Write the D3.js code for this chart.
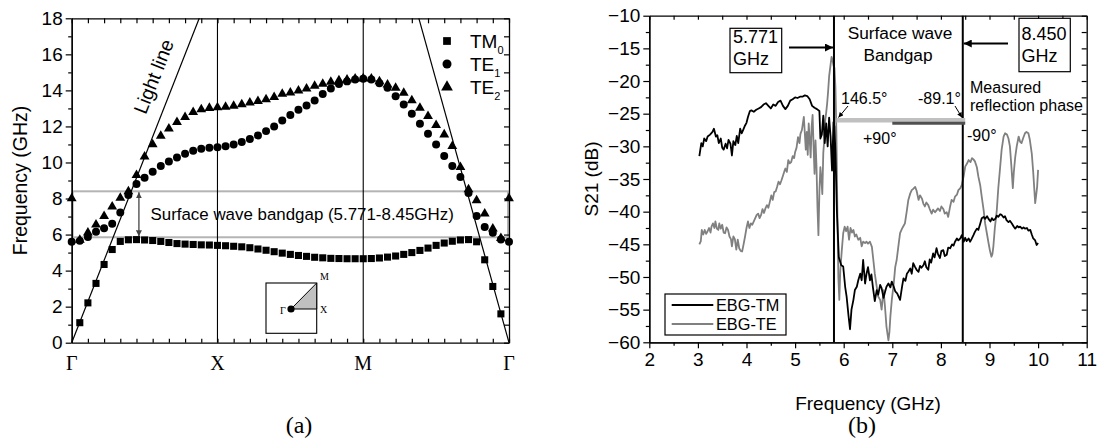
<!DOCTYPE html>
<html><head><meta charset="utf-8">
<script src="https://cdn.jsdelivr.net/npm/d3@7"></script>
<style>
html,body{margin:0;padding:0;background:#fff;}
svg{display:block;}
</style></head><body>
<svg id="chart" width="1100" height="444"></svg>
<script>
// ================= DATA =================
// (a) dispersion diagram: k-path index 0..54 (Γ-X-M-Γ), frequency in GHz
const kPointLabels = ["Γ", "X", "M", "Γ"];
const kPointIndex = [0, 18, 36, 54];
const tm0 = [null,1.11,2.21,3.29,4.34,5.17,5.62,5.71,5.72,5.7,5.67,5.62,5.56,5.5,5.47,5.45,5.43,5.42,5.4,5.38,5.35,5.32,5.27,5.2,5.13,5.05,4.97,4.9,4.84,4.79,4.74,4.71,4.68,4.67,4.66,4.66,4.66,4.67,4.7,4.75,4.81,4.9,5.0,5.12,5.25,5.4,5.53,5.63,5.7,5.72,5.6,4.6,3.12,1.6,null];
const te1 = [5.6,5.65,5.87,6.15,6.35,6.6,7.22,8.2,8.8,9.15,9.48,9.8,10.05,10.28,10.48,10.65,10.76,10.82,10.85,10.9,11.0,11.13,11.3,11.5,11.74,12.0,12.33,12.64,12.92,13.16,13.44,13.8,14.1,14.36,14.5,14.6,14.65,14.6,14.4,14.14,13.68,13.22,12.7,12.15,11.6,11.0,10.36,9.8,9.2,8.3,7.03,6.42,6.1,5.72,5.6];
const te2 = [8.0,5.7,6.1,6.55,7.02,7.55,8.03,8.4,9.29,10.32,11.0,11.47,11.87,12.24,12.51,12.79,12.95,13.02,13.05,13.08,13.14,13.22,13.32,13.4,13.5,13.62,13.81,13.87,13.99,14.1,14.25,14.36,14.47,14.55,14.6,14.65,14.67,14.65,14.5,14.32,14.14,13.86,13.44,13.03,12.57,12.07,11.55,10.9,9.74,8.5,7.9,7.16,6.33,5.8,8.0];
const seriesNamesA = ["TM", "TE", "TE"];
const seriesSubsA = ["0", "1", "2"];
const yTicksA = [0,2,4,6,8,10,12,14,16,18];
const lightLineLeft = [[0,0],[15.75,18]];
const lightLineRight = [[54,0],[42.87,18]];
const bandgapDrawn = [5.85, 8.4];
const bandgapText = "Surface wave bandgap (5.771-8.45GHz)";

// (b) measured S21
const tmFreq = [3.03,3.07,3.1,3.13,3.17,3.2,3.25,3.3,3.33,3.37,3.4,3.43,3.47,3.5,3.53,3.57,3.6,3.63,3.67,3.7,3.73,3.77,3.8,3.83,3.87,3.9,3.93,3.97,4.0,4.03,4.07,4.1,4.15,4.2,4.25,4.3,4.35,4.4,4.45,4.5,4.55,4.6,4.65,4.7,4.75,4.8,4.85,4.9,4.95,5.0,5.05,5.1,5.15,5.2,5.25,5.3,5.35,5.4,5.45,5.5,5.52,5.55,5.58,5.61,5.64,5.67,5.7,5.73,5.76,5.79,5.81,5.83,5.86,5.9,5.95,5.99,6.03,6.06,6.1,6.13,6.16,6.2,6.23,6.27,6.3,6.34,6.37,6.4,6.44,6.47,6.5,6.54,6.57,6.6,6.64,6.68,6.71,6.75,6.78,6.82,6.85,6.88,6.92,6.96,6.99,7.03,7.06,7.1,7.13,7.16,7.2,7.23,7.27,7.3,7.33,7.37,7.4,7.43,7.47,7.5,7.54,7.57,7.6,7.64,7.67,7.7,7.74,7.77,7.8,7.84,7.87,7.91,7.94,7.98,8.01,8.05,8.08,8.12,8.15,8.19,8.23,8.26,8.29,8.33,8.36,8.4,8.43,8.47,8.5,8.53,8.57,8.6,8.63,8.67,8.7,8.74,8.77,8.81,8.84,8.88,8.91,8.95,8.98,9.02,9.05,9.08,9.12,9.15,9.18,9.22,9.25,9.29,9.32,9.35,9.39,9.42,9.46,9.5,9.53,9.57,9.6,9.63,9.67,9.7,9.73,9.77,9.8,9.84,9.87,9.9,9.94,9.97,10.0];
const tmS21 = [-31.5,-29.5,-30,-28.8,-29.2,-28.5,-28.2,-27.8,-27.3,-28.5,-28.3,-29.5,-28.8,-30.2,-30.5,-29.6,-30.3,-29,-29.6,-31.4,-29.2,-29.8,-28.4,-29.5,-27.3,-28,-27.5,-26.8,-26.4,-25.5,-24.6,-24.5,-24.7,-24.4,-24.2,-24,-23.6,-23.4,-23.8,-24.2,-23.6,-23.8,-23.2,-23,-23.8,-24.3,-23.8,-23,-22.8,-22.5,-22.6,-22.4,-22.4,-22.2,-22.3,-22.8,-23.8,-24.1,-24.3,-24.6,-28.8,-28.2,-25.3,-29.5,-26.5,-30,-25.6,-28.5,-33.7,-26.3,-27,-31,-40,-47,-48.2,-48.4,-51.5,-53,-56,-58,-55,-53.5,-52,-51.5,-50.5,-49.5,-50.5,-47.4,-51,-49.5,-48.5,-50.5,-49.6,-51.5,-53.7,-52,-52.7,-51.2,-51.7,-53.2,-52.3,-51.5,-51,-51.6,-50.7,-51.5,-52.2,-52.5,-53,-53.5,-51.5,-50.2,-50.6,-49.5,-49.2,-48.7,-49.5,-47.9,-48.5,-48.9,-49.2,-48.3,-48.6,-48.2,-47.6,-48.5,-48.9,-47.3,-47.8,-46.4,-47,-45.6,-46.5,-47.1,-46,-45.9,-46.8,-46.6,-45.5,-45.6,-45,-45.2,-44.6,-44.1,-44.4,-44.1,-43.6,-44.6,-44,-44.5,-44.1,-44.6,-44.2,-43.6,-43.1,-42.6,-42.8,-41.8,-41,-40.8,-41.1,-40.7,-41.1,-41.5,-41,-41.3,-41.1,-40.6,-40.8,-40.4,-40.5,-40.9,-40.7,-41.3,-41.6,-41.4,-41.8,-42.3,-42.6,-42.2,-42.4,-42.3,-42.6,-42.4,-42.6,-42.5,-42.9,-42.8,-43.5,-44.1,-44.4,-45.1,-44.8];
const teFreq = [3.03,3.06,3.08,3.11,3.14,3.17,3.2,3.23,3.26,3.28,3.31,3.34,3.36,3.39,3.42,3.44,3.47,3.5,3.53,3.56,3.59,3.62,3.65,3.68,3.7,3.73,3.76,3.79,3.82,3.85,3.88,3.91,3.94,3.97,4.0,4.03,4.06,4.09,4.12,4.15,4.18,4.21,4.24,4.27,4.3,4.33,4.36,4.39,4.42,4.45,4.48,4.51,4.54,4.57,4.6,4.63,4.66,4.69,4.72,4.75,4.78,4.8,4.83,4.86,4.89,4.92,4.95,4.98,5.0,5.03,5.06,5.09,5.11,5.14,5.16,5.18,5.2,5.22,5.24,5.26,5.28,5.3,5.32,5.34,5.36,5.38,5.4,5.42,5.44,5.46,5.48,5.5,5.52,5.54,5.56,5.58,5.6,5.62,5.64,5.66,5.68,5.7,5.73,5.75,5.77,5.79,5.81,5.83,5.85,5.87,5.89,5.91,5.93,5.96,5.99,6.02,6.05,6.08,6.11,6.14,6.17,6.2,6.23,6.26,6.3,6.34,6.37,6.4,6.44,6.47,6.5,6.54,6.58,6.61,6.64,6.68,6.71,6.75,6.78,6.82,6.85,6.88,6.92,6.94,6.96,6.99,7.03,7.06,7.09,7.13,7.16,7.2,7.23,7.26,7.3,7.33,7.37,7.4,7.43,7.47,7.5,7.54,7.57,7.61,7.64,7.67,7.7,7.74,7.77,7.81,7.84,7.88,7.91,7.94,7.98,8.01,8.05,8.08,8.12,8.15,8.19,8.22,8.26,8.29,8.33,8.36,8.4,8.43,8.47,8.5,8.54,8.57,8.61,8.64,8.67,8.7,8.74,8.77,8.81,8.84,8.88,8.91,8.95,8.98,9.01,9.04,9.06,9.08,9.11,9.15,9.18,9.22,9.25,9.29,9.32,9.36,9.39,9.42,9.45,9.48,9.5,9.53,9.56,9.6,9.63,9.66,9.69,9.73,9.76,9.8,9.83,9.87,9.9,9.94,9.96,9.98,10.0];
const teS21 = [-45,-44.5,-42.8,-43.5,-42.8,-43.4,-43,-42.5,-43.2,-42.3,-41.8,-42.5,-41.5,-42.6,-42.8,-41.8,-42.6,-42,-43.2,-43.3,-42.4,-42.8,-43.8,-44.2,-45.3,-43.8,-44.2,-45.8,-44.3,-45.6,-46,-46.1,-45,-43.8,-42.5,-41.5,-42.5,-41.8,-42,-41.5,-41,-40.5,-40.3,-41,-40.5,-39.6,-40.2,-39.5,-39,-39.4,-38.5,-37.5,-38.2,-37,-36.9,-36.2,-35.4,-35.8,-35.2,-34.5,-33.8,-33.4,-33.9,-32.1,-32.6,-32.4,-31.5,-31.8,-30.9,-30.2,-28.6,-29.5,-28.1,-27.5,-26.5,-25.5,-28,-30.5,-27.8,-31.3,-26.5,-29,-31.7,-27,-25.2,-30,-34.2,-29.1,-33,-39.3,-43.6,-37,-33.2,-35,-37.3,-31,-29.1,-26,-24.8,-23.4,-21.5,-19.3,-17.5,-16.3,-16.8,-17.6,-18,-21,-28,-40,-50,-53.5,-49,-46,-43.3,-42.3,-43,-42.3,-44.3,-42.5,-43.2,-42.8,-43.8,-43.5,-44.3,-44,-45.3,-44.6,-44.8,-44.6,-44.9,-44.6,-45.4,-47.4,-49.5,-51.5,-53,-53.5,-55,-52,-54.6,-57.6,-59.7,-58.5,-56.1,-53.5,-51,-48.5,-47.4,-45,-43.3,-42.6,-42.2,-41.8,-39.8,-38.2,-37.2,-36.7,-36.5,-36.2,-36.8,-38.2,-37.5,-38,-38.8,-39.2,-38.6,-39,-39.6,-40.3,-39.7,-40.1,-39.8,-39.5,-39.9,-39.2,-39.6,-40.3,-40.1,-40.8,-39.2,-38.2,-38.5,-37.7,-37.4,-36.7,-36.4,-35.9,-34.5,-33.1,-32.6,-32.1,-32.4,-31.8,-32,-32.3,-33.2,-34.6,-36,-37.7,-39.8,-41.8,-43.5,-44.8,-46,-46.9,-46.5,-45.3,-42.5,-39.8,-36.5,-33.1,-30.5,-28.5,-28,-28.2,-28.8,-30,-33,-36.4,-34,-31.6,-30,-28.5,-29.3,-29.5,-28.8,-28,-27.8,-28,-29,-31.1,-34,-38.7,-37.5,-36.2,-33.6];
const seriesNamesB = ["EBG-TM", "EBG-TE"];
const xTicksB = [2,3,4,5,6,7,8,9,10,11];
const yTicksB = [-60,-55,-50,-45,-40,-35,-30,-25,-20,-15,-10];
const bandEdgesDrawn = [5.8, 8.45];
const bandEdgeLabels = ["5.771", "8.450"];
const phaseBars = [[5.85, 8.5, -26], [7.0, 8.5, -26.45]];
const phaseLabels = ["146.5°", "-89.1°", "+90°", "-90°"];

// ================= DRAW =================
const FONT = '"Liberation Sans", Arial, Helvetica, sans-serif';
const SERIF = '"Liberation Serif", "Times New Roman", Times, serif';
const svg = d3.select("#chart");
const defs = svg.append("defs");
defs.append("marker").attr("id","ah").attr("viewBox","0 0 10 10").attr("refX",10).attr("refY",5)
  .attr("markerWidth",10).attr("markerHeight",8).attr("markerUnits","userSpaceOnUse").attr("orient","auto")
  .append("path").attr("d","M0,0 L10,5 L0,10 z").attr("fill","#000");
defs.append("marker").attr("id","ahs").attr("viewBox","0 0 10 10").attr("refX",10).attr("refY",5)
  .attr("markerWidth",6).attr("markerHeight",5).attr("markerUnits","userSpaceOnUse").attr("orient","auto")
  .append("path").attr("d","M0,0 L10,5 L0,10 z").attr("fill","#000");
defs.append("marker").attr("id","ahg").attr("viewBox","0 0 10 10").attr("refX",10).attr("refY",5)
  .attr("markerWidth",6).attr("markerHeight",6).attr("markerUnits","userSpaceOnUse").attr("orient","auto-start-reverse")
  .append("path").attr("d","M0,0 L10,5 L0,10 z").attr("fill","#444");

function styleAxis(g, fs, fam) {
  g.select(".domain").attr("stroke","#000").attr("stroke-width",1.3);
  g.selectAll(".tick line").attr("stroke","#000").attr("stroke-width",1.2);
  g.selectAll("text").attr("font-family", fam || FONT).attr("font-size", fs).attr("fill","#000");
}

// ---------- Panel (a) ----------
const xa = d3.scaleLinear().domain([0,54]).range([71.7,509]);
const ya = d3.scaleLinear().domain([0,18]).range([342.7,18.3]);
const ga = svg.append("g");

// bandgap rectangle
ga.append("rect").attr("x", xa(0)+1).attr("y", ya(bandgapDrawn[1]))
  .attr("width", xa(54)-xa(0)-2).attr("height", ya(bandgapDrawn[0])-ya(bandgapDrawn[1]))
  .attr("fill","none").attr("stroke","#b4b4b4").attr("stroke-width",2);

// vertical lines at X and M
ga.selectAll("line.kv").data(kPointIndex.slice(1,3)).join("line").attr("class","kv")
  .attr("x1", d=>xa(d)).attr("x2", d=>xa(d)).attr("y1", ya(0)).attr("y2", ya(18))
  .attr("stroke","#000").attr("stroke-width",1.1);

// light lines
const lineA = d3.line().x(d=>xa(d[0])).y(d=>ya(d[1]));
[lightLineLeft, lightLineRight].forEach(l => ga.append("path").attr("d", lineA(l))
  .attr("fill","none").attr("stroke","#000").attr("stroke-width",1.2));

// axes (a)
const evenIdx = d3.range(0,55,2);
ga.append("g").attr("transform",`translate(${xa(0)},0)`)
  .call(d3.axisLeft(ya).tickValues([1,3,5,7,9,11,13,15,17]).tickSize(3.5).tickFormat("").tickSizeOuter(0))
  .call(g=>styleAxis(g,19));
ga.append("g").attr("transform",`translate(${xa(0)},0)`)
  .call(d3.axisLeft(ya).tickValues(yTicksA).tickSize(6).tickPadding(3).tickSizeOuter(0))
  .call(g=>styleAxis(g,19));
ga.append("g").attr("transform",`translate(${xa(54)},0)`)
  .call(d3.axisRight(ya).tickValues(d3.range(0,19,1)).tickSize(-5).tickFormat("").tickSizeOuter(0))
  .call(g=>styleAxis(g,19));
ga.append("g").attr("transform",`translate(0,${ya(0)})`)
  .call(d3.axisBottom(xa).tickValues(evenIdx).tickSize(-4).tickFormat("").tickSizeOuter(0))
  .call(g=>styleAxis(g,19));
ga.append("g").attr("transform",`translate(0,${ya(18)})`)
  .call(d3.axisTop(xa).tickValues(evenIdx).tickSize(-5).tickFormat("").tickSizeOuter(0))
  .call(g=>styleAxis(g,19));

// k-point labels
ga.selectAll("text.kl").data(kPointIndex).join("text").attr("class","kl")
  .attr("x", d=>xa(d)).attr("y", 369.5).attr("text-anchor","middle")
  .attr("font-family", SERIF).attr("font-size",20).text((d,i)=>kPointLabels[i]);

// axis title (a)
ga.append("text").attr("transform",`translate(27,${(ya(0)+ya(18))/2}) rotate(-90)`)
  .attr("text-anchor","middle").attr("font-family",FONT).attr("font-size",19.5).text("Frequency (GHz)");

// "Light line" label
ga.append("text").attr("transform","translate(160,79) rotate(-68.5)")
  .attr("text-anchor","middle").attr("font-family",FONT).attr("font-size",19.5).text("Light line");

// bandgap annotation
ga.append("line").attr("x1", xa(8.3)).attr("x2", xa(8.3))
  .attr("y1", ya(bandgapDrawn[1])+1).attr("y2", ya(bandgapDrawn[0])-1)
  .attr("stroke","#444").attr("stroke-width",1.3)
  .attr("marker-start","url(#ahg)").attr("marker-end","url(#ahg)");
ga.append("text").attr("x",150.5).attr("y",220).attr("font-family",FONT).attr("font-size",16.9).text(bandgapText);

// markers
const symSq = d3.symbol().type(d3.symbolSquare).size(50);
const symCi = d3.symbol().type(d3.symbolCircle).size(50);
const symTr = d3.symbol().type(d3.symbolTriangle).size(42);
function drawSeries(data, sym) {
  ga.append("g").selectAll("path").data(data.map((v,i)=>[i,v]).filter(d=>d[1]!==null)).join("path")
    .attr("d", sym).attr("transform", d=>`translate(${xa(d[0])},${ya(d[1])})`).attr("fill","#000");
}
drawSeries(tm0, symSq);
drawSeries(te1, symCi);
drawSeries(te2, symTr);

// legend (a)
const legSyms = [d3.symbol().type(d3.symbolSquare).size(60), d3.symbol().type(d3.symbolCircle).size(64), d3.symbol().type(d3.symbolTriangle).size(60)];
const legA = ga.append("g");
seriesNamesA.forEach((name,i)=>{
  const yy = 41 + i*23;
  legA.append("path").attr("d", legSyms[i]).attr("transform",`translate(447,${yy})`).attr("fill","#000");
  const t = legA.append("text").attr("x",470).attr("y",yy+6.5).attr("font-family",FONT).attr("font-size",19).text(name);
  t.append("tspan").attr("dy",6).attr("font-size",11).text(seriesSubsA[i]);
});

// inset Brillouin zone
const ins = ga.append("g").attr("transform","translate(266,283)");
ins.append("rect").attr("x",0).attr("y",0).attr("width",50.7).attr("height",50.3).attr("fill","#fff").attr("stroke","#000").attr("stroke-width",1.1);
ins.append("path").attr("d","M25,26 L50.7,26 L50.7,0 Z").attr("fill","#c0c0c0").attr("stroke","#000").attr("stroke-width",1);
ins.append("circle").attr("cx",25).attr("cy",26).attr("r",3.6).attr("fill","#000");
ins.append("text").attr("x",14).attr("y",30.5).attr("font-family",SERIF).attr("font-size",10).text("Γ");
ins.append("text").attr("x",54).attr("y",30).attr("font-family",SERIF).attr("font-size",10).text("X");
ins.append("text").attr("x",54).attr("y",-3).attr("font-family",SERIF).attr("font-size",10).text("M");

ga.append("text").attr("x",299).attr("y",433).attr("text-anchor","middle").attr("font-family",SERIF).attr("font-size",24).text("(a)");

// ---------- Panel (b) ----------
const xb = d3.scaleLinear().domain([2,11]).range([649.3,1086.7]);
const yb = d3.scaleLinear().domain([-60,-10]).range([342.3,15.7]);
const gb = svg.append("g");

const lineB = d3.line().x(d=>xb(d[0])).y(d=>yb(d[1]));
gb.append("path").attr("d", lineB(teFreq.map((f,i)=>[f, teS21[i]])))
  .attr("fill","none").attr("stroke","#808080").attr("stroke-width",1.8).attr("stroke-linejoin","round");
gb.append("path").attr("d", lineB(tmFreq.map((f,i)=>[f, tmS21[i]])))
  .attr("fill","none").attr("stroke","#000").attr("stroke-width",1.8).attr("stroke-linejoin","round");

// band edge lines
gb.selectAll("line.be").data(bandEdgesDrawn).join("line").attr("class","be")
  .attr("x1", d=>xb(d)).attr("x2", d=>xb(d)).attr("y1", yb(-60)).attr("y2", yb(-10))
  .attr("stroke","#000").attr("stroke-width",2);

// phase bars
gb.append("line").attr("x1", xb(phaseBars[0][0])).attr("x2", xb(phaseBars[0][1]))
  .attr("y1", yb(phaseBars[0][2])).attr("y2", yb(phaseBars[0][2])).attr("stroke","#c0c0c0").attr("stroke-width",4.5);
gb.append("line").attr("x1", xb(phaseBars[1][0])).attr("x2", xb(phaseBars[1][1]))
  .attr("y1", yb(phaseBars[1][2])).attr("y2", yb(phaseBars[1][2])).attr("stroke","#505050").attr("stroke-width",3);

// axes (b)
const halfX = d3.range(2,11.01,0.5);
const quarterY = d3.range(-60,-9.9,2.5);
gb.append("g").attr("transform",`translate(0,${yb(-60)})`)
  .call(d3.axisBottom(xb).tickValues(halfX.filter(v=>v%1!==0)).tickSize(3.5).tickFormat("").tickSizeOuter(0))
  .call(g=>styleAxis(g,19));
gb.append("g").attr("transform",`translate(0,${yb(-60)})`)
  .call(d3.axisBottom(xb).tickValues(xTicksB).tickSize(6).tickPadding(4).tickSizeOuter(0))
  .call(g=>styleAxis(g,19));
gb.append("g").attr("transform",`translate(${xb(2)},0)`)
  .call(d3.axisLeft(yb).tickValues(quarterY.filter(v=>v%5!==0)).tickSize(3.5).tickFormat("").tickSizeOuter(0))
  .call(g=>styleAxis(g,19));
gb.append("g").attr("transform",`translate(${xb(2)},0)`)
  .call(d3.axisLeft(yb).tickValues(yTicksB).tickSize(6).tickPadding(3).tickSizeOuter(0))
  .call(g=>styleAxis(g,19));
gb.append("g").attr("transform",`translate(0,${yb(-10)})`)
  .call(d3.axisTop(xb).tickValues(halfX).tickSize(-4).tickFormat("").tickSizeOuter(0))
  .call(g=>styleAxis(g,19));
gb.append("g").attr("transform",`translate(${xb(11)},0)`)
  .call(d3.axisRight(yb).tickValues(quarterY).tickSize(-5).tickFormat("").tickSizeOuter(0))
  .call(g=>styleAxis(g,19));

gb.append("text").attr("x", (xb(2)+xb(11))/2).attr("y", 410).attr("text-anchor","middle")
  .attr("font-family",FONT).attr("font-size",19).text("Frequency (GHz)");
gb.append("text").attr("transform",`translate(598,${(yb(-60)+yb(-10))/2}) rotate(-90)`)
  .attr("text-anchor","middle").attr("font-family",FONT).attr("font-size",19).text("S21 (dB)");

// band edge label boxes
gb.append("rect").attr("x",730).attr("y",28.3).attr("width",51.7).attr("height",44.4).attr("fill","#fff").attr("stroke","#000").attr("stroke-width",1.2);
gb.append("text").attr("x",733).attr("y",43).attr("font-family",FONT).attr("font-size",18).text(bandEdgeLabels[0]);
gb.append("text").attr("x",733).attr("y",64.5).attr("font-family",FONT).attr("font-size",18).text("GHz");
gb.append("line").attr("x1",789).attr("x2", xb(bandEdgesDrawn[0])-1).attr("y1",47.5).attr("y2",47.5)
  .attr("stroke","#000").attr("stroke-width",2).attr("marker-end","url(#ah)");

gb.append("rect").attr("x",1019).attr("y",18.3).attr("width",51.3).attr("height",53.4).attr("fill","#fff").attr("stroke","#000").attr("stroke-width",1.2);
gb.append("text").attr("x",1021.5).attr("y",39.5).attr("font-family",FONT).attr("font-size",18).text(bandEdgeLabels[1]);
gb.append("text").attr("x",1021.5).attr("y",62).attr("font-family",FONT).attr("font-size",18).text("GHz");
gb.append("line").attr("x1",1008).attr("x2", xb(bandEdgesDrawn[1])+1).attr("y1",43.5).attr("y2",43.5)
  .attr("stroke","#000").attr("stroke-width",2).attr("marker-end","url(#ah)");

gb.append("text").attr("x",900).attr("y",39).attr("text-anchor","middle").attr("font-family",FONT).attr("font-size",17.3).text("Surface wave");
gb.append("text").attr("x",898).attr("y",60.5).attr("text-anchor","middle").attr("font-family",FONT).attr("font-size",17.3).text("Bandgap");
gb.append("text").attr("x",970).attr("y",92.5).attr("font-family",FONT).attr("font-size",16).text("Measured");
gb.append("text").attr("x",970).attr("y",110.5).attr("font-family",FONT).attr("font-size",16).text("reflection phase");

gb.append("text").attr("x",841).attr("y",103.5).attr("font-family",FONT).attr("font-size",16).text(phaseLabels[0]);
gb.append("text").attr("x",918).attr("y",103.5).attr("font-family",FONT).attr("font-size",16).text(phaseLabels[1]);
gb.append("text").attr("x",863).attr("y",144).attr("font-family",FONT).attr("font-size",16).text(phaseLabels[2]);
gb.append("text").attr("x",967).attr("y",141).attr("font-family",FONT).attr("font-size",16).text(phaseLabels[3]);
gb.append("line").attr("x1",848).attr("y1",106).attr("x2",838.5).attr("y2",117.5)
  .attr("stroke","#000").attr("stroke-width",1).attr("marker-end","url(#ahs)");
gb.append("line").attr("x1",955).attr("y1",106).attr("x2",962).attr("y2",117.5)
  .attr("stroke","#000").attr("stroke-width",1).attr("marker-end","url(#ahs)");

// legend (b)
const legB = gb.append("g");
legB.append("rect").attr("x",665).attr("y",294).attr("width",121).attr("height",41).attr("fill","#fff").attr("stroke","#000").attr("stroke-width",1.2);
const legCols = ["#000", "#808080"];
seriesNamesB.forEach((n,i)=>{
  const yy = 305 + i*19;
  legB.append("line").attr("x1",671.7).attr("x2",713.3).attr("y1",yy).attr("y2",yy).attr("stroke",legCols[i]).attr("stroke-width",1.8);
  legB.append("text").attr("x",716).attr("y",yy+5.8).attr("font-family",FONT).attr("font-size",16.3).text(n);
});

gb.append("text").attr("x",862).attr("y",433).attr("text-anchor","middle").attr("font-family",SERIF).attr("font-size",24).text("(b)");
</script>
</body></html>
